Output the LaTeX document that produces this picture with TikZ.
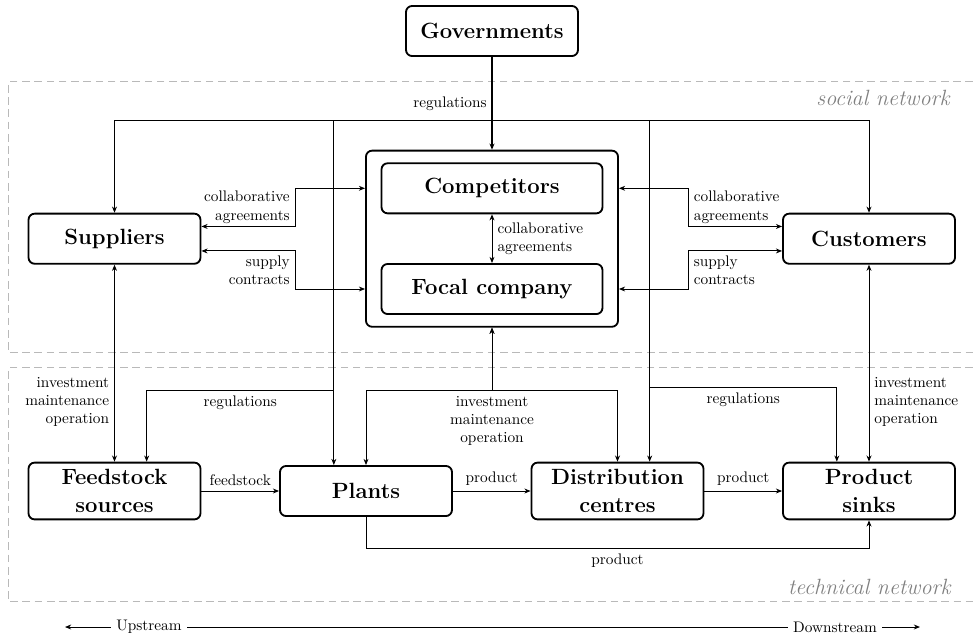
\documentclass[tikz,border=0pt]{standalone}
\usepackage{tikz}
\usetikzlibrary{positioning, arrows.meta}

\tikzset{
  >={Stealth[length=4pt, width=3.2pt, inset=1.2pt]},
  actor/.style={draw, very thick, rounded corners=4pt, align=center, font=\Large\bfseries,
    minimum width=112.3pt, minimum height=32.7pt, inner ysep=4.5pt},
  link/.style={semithick},
  zone/.style={draw=gray!55, thick, dash pattern=on 5pt off 3pt},
  zonelabel/.style={anchor=east, text=gray, font=\Large\itshape},
}

\begin{document}
\begin{tikzpicture}[x=0.653pt, y=-0.653pt]
        \useasboundingbox (0,0) rectangle (973,638);
        % network areas (open to the right)
        \draw[zone] (973,81.7) -| (8.3,352.7) -- (973,352.7);
        \draw[zone] (973,367.7) -| (8.3,601.7) -- (973,601.7);
        \node[zonelabel] (soclbl) at (955,98) {social network};
        \node[zonelabel] (techlbl) at (956,587) {technical network};
        % actors
        \node[actor] (gov) at (492,31) {Governments};
        \node[actor, minimum width=164.6pt, minimum height=115pt] (hub) at (492,238.7) {};
        \node[actor, minimum width=144.3pt] (comp) at (492,188.3) {Competitors};
        \node[actor, minimum width=144.3pt] (focal) at (492,289) {Focal company};
        \node[actor] (sup) at (114.5,238.7) {Suppliers};
        \node[actor] (cust) at (869,238.7) {Customers};
        \node[actor] (feed) at (114.5,491) {Feedstock\\sources};
        \node[actor] (plant) at (366,491) {Plants};
        \node[actor] (dist) at (617.5,491) {Distribution\\centres};
        \node[actor] (sink) at (869,491) {Product\\sinks};
        % helper rows and columns
        \coordinate (regbar) at (0,120);
        \coordinate (lowbar) at (0,390.7);
        \coordinate (lowbarR) at (0,387.3);
        \coordinate (prodbar) at (0,548.3);
        \coordinate (lbend) at (295.3,0);
        \coordinate (rbend) at (688.3,0);
        \coordinate (plantreg) at ([xshift=-21pt]plant.north);
        \coordinate (distreg) at ([xshift=21pt]dist.north);
        \coordinate (feedreg) at ([xshift=21pt]feed.north);
        \coordinate (sinkreg) at ([xshift=-21pt]sink.north);
        \coordinate (custA) at ([yshift=8pt]cust.west);
        \coordinate (custB) at ([yshift=-8pt]cust.west);
        % regulations
        \draw[thick,->] (gov) -- (hub);
        \node[left] (regtop) at (492,104) {regulations};
        \draw[link,->] (gov.south) |- (sup.north |- regbar) -- (sup.north);
        \draw[link,->] (gov.south) |- (cust.north |- regbar) -- (cust.north);
        \draw[link,->] (gov.south) |- (plantreg |- regbar) -- (plantreg);
        \draw[link,->] (gov.south) |- (distreg |- regbar) -- (distreg);
        \draw[link,->] (plantreg |- lowbar) -| node[below,pos=0.25] {regulations} (feedreg);
        \draw[link,->] (distreg |- lowbarR) -| node[below,pos=0.25] {regulations} (sinkreg);
        % agreements and contracts
        \draw[link,<->] ([yshift=8pt]sup.east) -| node[left,align=right,pos=0.75] {collaborative\\agreements} (lbend |- comp) -- (hub.west |- comp);
        \draw[link,<->] ([yshift=-8pt]sup.east) -| node[left,align=right,pos=0.75] {supply\\contracts} (lbend |- focal) -- (hub.west |- focal);
        \draw[link,<->] (hub.east |- comp) -| node[right,align=left,pos=0.75] {collaborative\\agreements} (rbend |- custA) -- (custA);
        \draw[link,<->] (hub.east |- focal) -| node[right,align=left,pos=0.75] {supply\\contracts} (rbend |- custB) -- (custB);
        \draw[link,<->] (comp) -- node[right,align=left] {collaborative\\agreements} (focal);
        % investment, maintenance, operation
        \draw[link,<->] (sup) -- (feed);
        \node[left,align=right] (invleft) at (114.5,402) {investment\\maintenance\\operation};
        \draw[link,<->] (cust) -- (sink);
        \node[right,align=left] (invright) at (869,402) {investment\\maintenance\\operation};
        \draw[link,<->] (hub.south) |- (plant.north |- lowbar) -- (plant.north);
        \draw[link,<->] (hub.south) |- (dist.north |- lowbar) -- (dist.north);
        \node[below,align=center] (invmid) at (hub.south |- lowbar) {investment\\maintenance\\operation};
        % material flow
        \draw[link,->] (feed) -- node[above] {feedstock} (plant);
        \draw[link,->] (plant) -- node[above] {product} (dist);
        \draw[link,->] (dist) -- node[above] {product} (sink);
        \draw[link,->] (plant.south) -- (plant.south |- prodbar) -- node[below] {product} (sink.south |- prodbar) -- (sink.south);
        % stream direction
        \node (upstr) at (149,627) {Upstream};
        \node (downstr) at (835,627) {Downstream};
        \coordinate (upend) at (65,627);
        \coordinate (downend) at (920,627);
        \draw[link,->] (upstr) -- (upend);
        \draw[link] (upstr) -- (downstr);
        \draw[link,->] (downstr) -- (downend);
      \end{tikzpicture}
\end{document}
